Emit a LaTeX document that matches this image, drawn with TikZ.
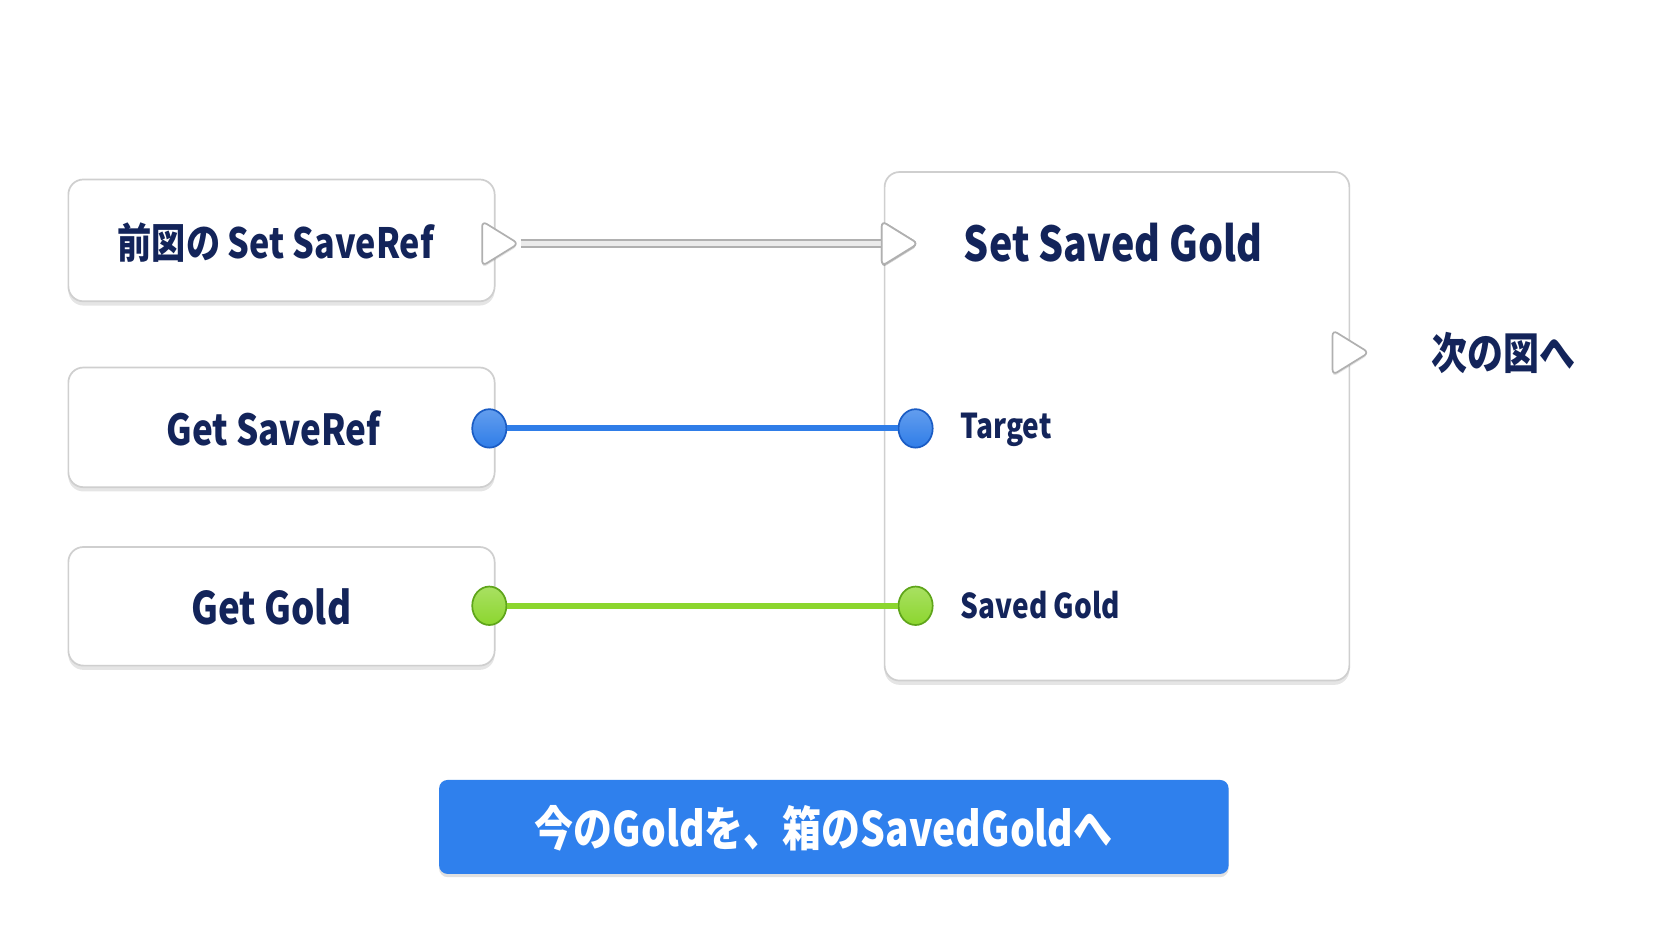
\documentclass[tikz,border=0pt]{standalone}
\usepackage{fontspec}
\newfontfamily\jp{Noto Sans CJK JP}[FakeStretch=0.82]
\usetikzlibrary{shapes.geometric,shadows}
\definecolor{navy}{HTML}{13245A}
\definecolor{pinblue}{HTML}{2F7DE8}
\definecolor{pinblueD}{HTML}{1A5CC4}
\definecolor{pingreen}{HTML}{8CD62E}
\definecolor{pingreenD}{HTML}{5FA51A}
\definecolor{btn}{HTML}{2F80ED}
\definecolor{edge}{HTML}{CFCFCF}
\begin{document}
\begin{tikzpicture}[x=1pt,y=-1pt,
  card/.style={draw=edge, line width=1.6pt, fill=white, rounded corners=14pt,
    drop shadow={shadow xshift=0pt, shadow yshift=-4pt, opacity=0.10, fill=black}},
  lbl/.style={text=navy, font=\jp\bfseries\fontsize{39}{45}\selectfont, inner sep=0pt},
  pinlbl/.style={text=navy, font=\jp\bfseries\fontsize{32}{38}\selectfont, inner sep=0pt, anchor=west},
  exectri/.style={isosceles triangle, isosceles triangle stretches, draw=edge!85!black, line width=1.6pt,
    fill=white, rounded corners=5pt, minimum height=34pt, minimum width=42pt, inner sep=0pt,
    drop shadow={shadow xshift=0pt, shadow yshift=-2pt, opacity=0.10, fill=black}},
  pin/.style={ellipse, minimum width=32pt, minimum height=36pt, inner sep=0pt, line width=1.6pt},
  bluepin/.style={pin, top color=pinblue!75!white, bottom color=pinblue, draw=pinblueD},
  greenpin/.style={pin, top color=pingreen!75!white, bottom color=pingreen, draw=pingreenD},
]
\useasboundingbox (0,0) rectangle (1565,881);
\fill[white] (0,0) rectangle (1565,881);

% left cards
\node[card, minimum width=399pt, minimum height=114pt, inner sep=0pt] (c1) at (263.5,225) {};
\node[lbl] at (258,227) {前図の Set SaveRef};
\node[card, minimum width=399pt, minimum height=112pt, inner sep=0pt] (c2) at (263.5,400) {};
\node[lbl, font=\jp\bfseries\fontsize{40}{46}\selectfont] at (256,401) {Get SaveRef};
\node[card, minimum width=399pt, minimum height=111pt, inner sep=0pt] (c3) at (263.5,567.5) {};
\node[lbl, font=\jp\bfseries\fontsize{42}{48}\selectfont] at (254,568) {Get Gold};

% big card
\node[card, minimum width=435pt, minimum height=476pt, inner sep=0pt] (big) at (1045.5,399) {};
\node[text=navy, font=\jp\bfseries\fontsize{45}{52}\selectfont, inner sep=0pt] (title) at (1042,227) {Set Saved Gold};

% exec pins
\node[exectri] (o1) at (463,228) {};
\node[exectri] (i1) at (837,228) {};
\node[exectri] (o2) at (1259,330) {};
\node[lbl, font=\jp\bfseries\fontsize{41}{47}\selectfont, anchor=west] (next) at (1340,330) {次の図へ};

% exec wire
\draw[edge!85!black, line width=8pt] (o1.apex) -- (i1.west);
\draw[white!92!black, line width=4.5pt] (o1.apex) -- (i1.west);
\node[exectri] at (837,228) {};

% data pins
\node[bluepin] (b1) at (458,401) {};
\node[bluepin] (b2) at (857,401) {};
\draw[pinblue, line width=5.5pt] (b1.east) -- (b2.west);
\node[pinlbl] (tg) at (899,402) {Target};

\node[greenpin] (g1) at (458,567) {};
\node[greenpin] (g2) at (857,567) {};
\draw[pingreen, line width=5.5pt] (g1.east) -- (g2.west);
\node[pinlbl] (sg) at (899,566) {Saved Gold};

% bottom button
\node[fill=btn, rounded corners=8pt, minimum width=739pt, minimum height=88pt, inner sep=0pt,
  drop shadow={shadow xshift=0pt, shadow yshift=-3pt, opacity=0.12, fill=black}] (btnbox) at (780.5,774) {};
\node[text=white, font=\jp\bfseries\fontsize{44.5}{50}\selectfont, inner sep=0pt] (btntext) at (771,775) {今のGoldを、箱のSavedGoldへ};
\end{tikzpicture}
\end{document}
